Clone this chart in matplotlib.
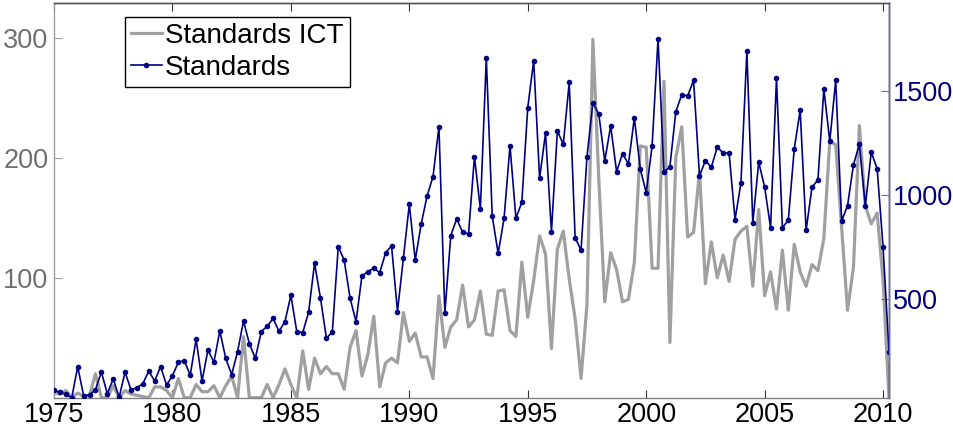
import numpy as np
import matplotlib
matplotlib.use("Agg")
import matplotlib.pyplot as plt

# quarterly data, 1975 Q1 .. 2010 Q2
start_year = 1975
ict = [4, 3, 6, 0, 4, 1, 2, 20, 0, 0,
       10, 0, 6, 3, 2, 1, 0, 9, 9, 6,
       0, 16, 0, 0, 11, 5, 5, 10, 0, 10,
       18, 0, 51, 0, 0, 0, 11, 0, 11, 24,
       11, 0, 39, 7, 33, 20, 26, 20, 20, 7,
       42, 56, 18, 36, 68, 9, 29, 33, 29, 71,
       47, 54, 34, 34, 16, 85, 42, 59, 65, 94,
       59, 65, 89, 53, 52, 89, 90, 56, 51, 113,
       67, 98, 135, 120, 41, 124, 139, 99, 66, 16,
       78, 299, 182, 80, 121, 107, 80, 82, 113, 210,
       209, 108, 108, 264, 46, 200, 226, 134, 138, 188,
       95, 130, 100, 119, 97, 132, 139, 143, 93, 157,
       85, 105, 74, 123, 73, 128, 105, 93, 111, 106,
       133, 214, 211, 142, 73, 109, 227, 160, 145, 154,
       98, 0]
standards = [65, 53, 45, 28, 177, 38, 42, 66, 151, 47,
             118, 30, 151, 65, 76, 95, 156, 108, 177, 89,
             134, 198, 206, 136, 308, 108, 257, 198, 348, 217,
             139, 249, 396, 286, 217, 345, 371, 408, 346, 393,
             519, 345, 340, 439, 673, 505, 313, 343, 752, 688,
             505, 393, 612, 632, 649, 627, 723, 757, 441, 697,
             955, 688, 860, 995, 1088, 1327, 433, 805, 886, 821,
             813, 1184, 932, 1658, 899, 720, 888, 1236, 888, 965,
             1419, 1644, 1080, 1297, 823, 1307, 1243, 1540, 795, 735,
             1184, 1443, 1387, 1163, 1331, 1112, 1198, 1149, 1369, 1125,
             1011, 1236, 1748, 1109, 1136, 1399, 1481, 1475, 1550, 1092,
             1165, 1133, 1230, 1201, 1201, 882, 1058, 1689, 867, 1157,
             1038, 843, 1559, 843, 880, 1221, 1406, 831, 1038, 1072,
             1508, 1257, 1551, 875, 949, 1145, 1243, 946, 1205, 1126,
             749, 249]
t = start_year + 0.25 * np.arange(len(standards))

plt.rcParams['font.family'] = ['Liberation Sans', 'DejaVu Sans']
plt.rcParams['font.size'] = 19.5

gray = '#a0a0a0'
navy = '#000080'

fig = plt.figure(figsize=(9.54, 4.34), dpi=100)
ax1 = fig.add_axes([54/954, 1 - 397.7/434, 835/954, 394.4/434])
ax2 = ax1.twinx()

l1, = ax1.plot(t, ict, color=gray, lw=2.3, label='Standards ICT')
l2, = ax2.plot(t, standards, color=navy, lw=1.2, marker='o', ms=3.0, label='Standards')

ax1.set_xlim(1975, 2010.25)
ax1.set_ylim(0, 329)
ax2.set_ylim(28, 1919)
ax1.set_xticks(range(1975, 2011, 5))
ax1.set_yticks([100, 200, 300])
ax2.set_yticks([500, 1000, 1500])

ax1.tick_params(axis='x', direction='in', length=6, top=True, colors='#333333',
                labelcolor='black', pad=3)
ax1.tick_params(axis='y', direction='in', length=6, colors=gray, labelcolor='#707070', pad=4)
ax2.tick_params(axis='y', direction='in', length=6, colors='#6a6ac0', labelcolor=navy, pad=3)

for ax in (ax1, ax2):
    for s in ax.spines.values():
        s.set_linewidth(1.0)
ax1.spines['left'].set_color(gray)
ax1.spines['bottom'].set_color('#808080')
ax1.spines['top'].set_color('#555555')
ax2.spines['right'].set_color('#6a6ac0')
ax2.spines['left'].set_visible(False)
ax2.spines['top'].set_color('#555555')
ax2.spines['bottom'].set_visible(False)

leg = ax2.legend([l1, l2], ['Standards ICT', 'Standards'], loc='upper left',
                 bbox_to_anchor=(125/954, 1 - 17/434), bbox_transform=fig.transFigure,
                 borderaxespad=0, fancybox=False, framealpha=1, edgecolor='black',
                 handlelength=1.1, handletextpad=0.12, labelspacing=0.2,
                 borderpad=0.22, fontsize=20)
leg.get_frame().set_linewidth(1.0)

plt.savefig('out.png', dpi=100)
